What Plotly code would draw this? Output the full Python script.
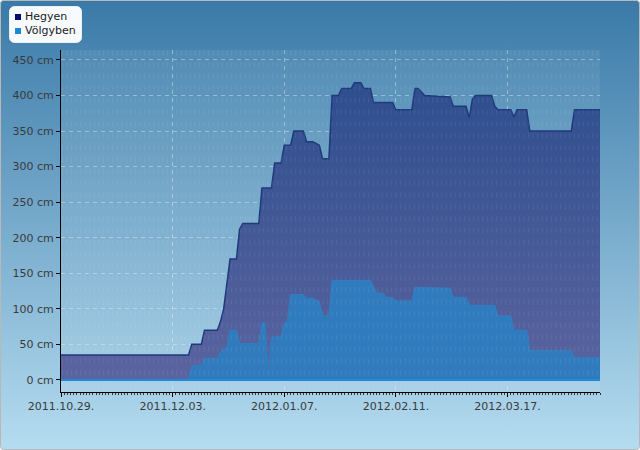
import base64
import plotly.graph_objects as go

# ---- data ----
hegyen_dates = ["2011-10-29", "2011-12-08", "2011-12-09", "2011-12-12", "2011-12-13", "2011-12-17",
                "2011-12-18", "2011-12-19", "2011-12-20", "2011-12-21", "2011-12-23", "2011-12-24",
                "2011-12-25", "2011-12-30", "2011-12-31", "2012-01-03", "2012-01-04", "2012-01-06",
                "2012-01-07", "2012-01-09", "2012-01-10", "2012-01-13", "2012-01-14", "2012-01-16",
                "2012-01-18", "2012-01-19", "2012-01-21", "2012-01-22", "2012-01-24", "2012-01-25",
                "2012-01-28", "2012-01-29", "2012-01-31", "2012-02-01", "2012-02-03", "2012-02-04",
                "2012-02-10", "2012-02-11", "2012-02-16", "2012-02-17", "2012-02-18", "2012-02-20",
                "2012-02-28", "2012-02-29", "2012-03-04", "2012-03-05", "2012-03-06", "2012-03-07",
                "2012-03-12", "2012-03-13", "2012-03-14", "2012-03-18", "2012-03-19", "2012-03-20",
                "2012-03-23", "2012-03-24", "2012-04-06", "2012-04-07", "2012-04-15"]
hegyen_cm = [35, 35, 50, 50, 70, 70,
             82, 100, 135, 170, 170, 212,
             220, 220, 270, 270, 305, 305,
             330, 330, 350, 350, 335, 335,
             330, 311, 311, 400, 400, 410,
             410, 418, 418, 410, 410, 390,
             390, 380, 380, 410, 410, 400,
             398, 385, 385, 369, 395, 400,
             400, 385, 380, 380, 370, 380,
             380, 350, 350, 380, 380]

volgyben_dates = ["2011-10-29", "2011-12-08", "2011-12-09", "2011-12-12", "2011-12-13", "2011-12-17",
                  "2011-12-18", "2011-12-20", "2011-12-21", "2011-12-23", "2011-12-24", "2011-12-30",
                  "2011-12-31", "2012-01-01", "2012-01-02", "2012-01-03", "2012-01-06", "2012-01-07",
                  "2012-01-08", "2012-01-09", "2012-01-13", "2012-01-14", "2012-01-16", "2012-01-18",
                  "2012-01-19", "2012-01-21", "2012-01-22", "2012-02-03", "2012-02-05", "2012-02-07",
                  "2012-02-08", "2012-02-10", "2012-02-11", "2012-02-16", "2012-02-17", "2012-02-28",
                  "2012-02-29", "2012-03-04", "2012-03-05", "2012-03-13", "2012-03-14", "2012-03-18",
                  "2012-03-19", "2012-03-23", "2012-03-24", "2012-04-06", "2012-04-07", "2012-04-15"]
volgyben_cm = [0, 0, 20, 20, 30, 30,
               40, 45, 70, 70, 51, 51,
               80, 80, 5, 60, 61, 80,
               82, 120, 120, 115, 115, 110,
               90, 90, 140, 140, 122, 122,
               116, 116, 111, 111, 130, 129,
               116, 116, 105, 105, 90, 90,
               70, 70, 41, 41, 31, 31]

series_names = ["Hegyen", "Völgyben"]
series_marker_colors = ["#0c0c6c", "#1a8ad6"]
y_ticks = [0, 50, 100, 150, 200, 250, 300, 350, 400, 450]
y_ticktext = [f"{v} cm" for v in y_ticks]
x_ticks = ["2011-10-29", "2011-12-03", "2012-01-07", "2012-02-11", "2012-03-17"]
x_range = ["2011-10-29", "2012-04-15"]

# ---- layout geometry (pixels) ----
W, H = 640, 450
ML, MR, MT, MB = 61, 40, 50, 58
PW, PH = W - ML - MR, H - MT - MB


def px(x):
    return (x - ML) / PW


def py(y):
    return 1 - (y - MT) / PH


bg_svg = f'''<svg xmlns="http://www.w3.org/2000/svg" width="{W}" height="{H}" viewBox="0 0 {W} {H}">
<defs><linearGradient id="g" x1="0" y1="0" x2="0" y2="1">
<stop offset="0" stop-color="#3a7aa8"/><stop offset="1" stop-color="#b5dcf0"/></linearGradient></defs>
<rect x="0.5" y="0.5" width="{W-1}" height="{H-1}" rx="3" fill="url(#g)" stroke="#b8b8b8"/>
<rect x="{ML}" y="{MT}" width="{PW}" height="{PH}" fill="#ffffff" fill-opacity="0.06"/>
<rect x="9.5" y="6.5" width="72" height="36" rx="5" fill="#f7fbff" stroke="#e8f0f6"/>
</svg>'''
tex_svg = f'''<svg xmlns="http://www.w3.org/2000/svg" width="{PW}" height="{PH}" viewBox="0 0 {PW} {PH}">
<defs><pattern id="p" x="0" y="0" width="4.57" height="11.85" patternUnits="userSpaceOnUse">
<rect x="1" y="0.3" width="1" height="5" fill="#ffffff" fill-opacity="0.075"/></pattern></defs>
<rect x="0" y="0" width="{PW}" height="{PH}" fill="url(#p)"/>
</svg>'''


def uri(s):
    return "data:image/svg+xml;base64," + base64.b64encode(s.encode()).decode()


fig = go.Figure()
fig.add_trace(go.Scatter(
    x=hegyen_dates, y=hegyen_cm, name=series_names[0], mode="lines", fill="tozeroy",
    line=dict(color="#1f3a7c", width=1.5),
    fillgradient=dict(type="vertical", start=0, stop=420,
                      colorscale=[[0, "rgba(86,94,156,0.95)"], [1, "rgba(43,74,139,0.95)"]]),
    showlegend=False, hoverinfo="skip"))
fig.add_trace(go.Scatter(
    x=volgyben_dates, y=volgyben_cm, name=series_names[1], mode="lines", fill="tozeroy",
    line=dict(color="#2f7fc2", width=1), fillcolor="rgba(48,124,190,0.97)",
    showlegend=False, hoverinfo="skip"))

fig.add_hline(y=0, line=dict(color="#1e8ad8", width=2))

# legend (drawn as text + swatches inside the rounded white box of the background)
annotations = []
shapes = []
for i, (nm, col) in enumerate(zip(series_names, series_marker_colors)):
    yc = 17 + i * 14
    annotations.append(dict(text=nm, xref="paper", yref="paper", x=px(23), y=py(yc),
                            xanchor="left", yanchor="middle", showarrow=False,
                            font=dict(family="DejaVu Sans", size=11, color="#1a1a1a")))
    shapes.append(dict(type="rect", xref="paper", yref="paper",
                       x0=px(15), x1=px(21), y0=py(yc + 3), y1=py(yc - 3),
                       fillcolor=col, line=dict(width=0)))

fig.update_layout(
    width=W, height=H, showlegend=False,
    margin=dict(l=ML, r=MR, t=MT, b=MB, autoexpand=False),
    paper_bgcolor="rgba(0,0,0,0)", plot_bgcolor="rgba(0,0,0,0)",
    font=dict(family="DejaVu Sans", size=11, color="#3a3a3a"),
    images=[dict(source=uri(bg_svg), xref="paper", yref="paper",
                 x=-ML / PW, y=1 + MT / PH, sizex=W / PW, sizey=H / PH,
                 xanchor="left", yanchor="top", sizing="stretch", layer="below"),
            dict(source=uri(tex_svg), xref="paper", yref="paper",
                 x=0, y=1, sizex=1, sizey=1, xanchor="left", yanchor="top",
                 sizing="stretch", layer="above")],
    annotations=annotations,
    xaxis=dict(type="date", range=x_range, tickvals=x_ticks, tickformat="%Y.%m.%d.",
               showline=True, linecolor="#000000", linewidth=1,
               ticks="outside", ticklen=4, tickcolor="#000000",
               minor=dict(dtick=86400000, ticks="outside", ticklen=2, tickcolor="#333333", showgrid=False),
               showgrid=True, gridcolor="rgba(230,242,250,0.42)", griddash="4px,4px", gridwidth=1,
               zeroline=False),
    yaxis=dict(range=[-17, 464], tickvals=y_ticks, ticktext=y_ticktext,
               showline=True, linecolor="#000000", linewidth=1,
               ticks="outside", ticklen=4, tickcolor="#000000",
               showgrid=True, gridcolor="rgba(230,242,250,0.42)", griddash="4px,4px", gridwidth=1,
               zeroline=False),
)
for s in shapes:
    fig.add_shape(**s)

fig.write_html("out.html")
